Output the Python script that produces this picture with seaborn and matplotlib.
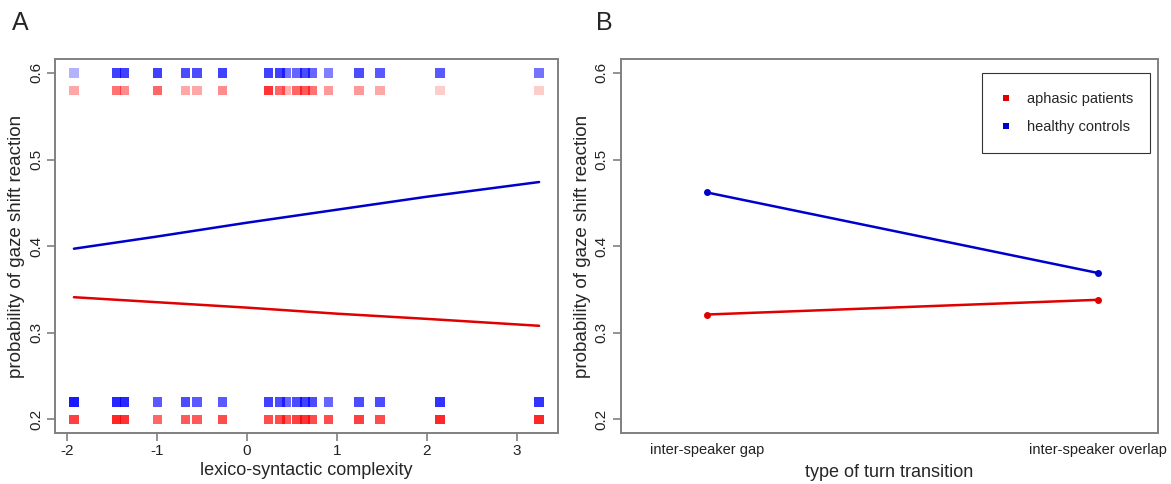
import numpy as np
import pandas as pd
import matplotlib
matplotlib.use("Agg")
import matplotlib.pyplot as plt
import seaborn as sns
from matplotlib.lines import Line2D

# --- panel A: observed complexity values (rug) and their opacity per row ---
rug_x = [-1.92, -1.45, -1.36, -0.99, -0.68, -0.55, -0.27, 0.24, 0.37, 0.44,
         0.56, 0.65, 0.73, 0.91, 1.25, 1.48, 2.15, 3.25]
blue_top_alpha = [0.30, 0.75, 0.75, 0.75, 0.70, 0.70, 0.75, 0.75, 0.75, 0.55,
                  0.60, 0.70, 0.60, 0.50, 0.70, 0.65, 0.65, 0.55]
red_top_alpha = [0.35, 0.55, 0.45, 0.60, 0.35, 0.35, 0.45, 0.80, 0.60, 0.30,
                 0.60, 0.65, 0.55, 0.40, 0.40, 0.35, 0.20, 0.20]
blue_bot_alpha = [0.90, 0.85, 0.85, 0.65, 0.70, 0.65, 0.65, 0.75, 0.70, 0.60,
                  0.70, 0.75, 0.70, 0.60, 0.70, 0.70, 0.80, 0.80]
red_bot_alpha = [0.75, 0.85, 0.80, 0.60, 0.65, 0.65, 0.70, 0.70, 0.70, 0.65,
                 0.75, 0.80, 0.70, 0.70, 0.75, 0.70, 0.85, 0.85]
rug_rows = [(0.60, blue_top_alpha, (0, 0, 1)),
            (0.58, red_top_alpha, (1, 0, 0)),
            (0.22, blue_bot_alpha, (0, 0, 1)),
            (0.20, red_bot_alpha, (1, 0, 0))]

# fitted probability curves
fit_x_blue = [-1.92, -1.0, 0.0, 1.0, 2.0, 3.25]
fit_y_blue = [0.397, 0.411, 0.427, 0.442, 0.457, 0.474]
fit_x_red = [-1.92, 0.0, 1.0, 2.0, 3.25]
fit_y_red = [0.341, 0.329, 0.322, 0.316, 0.308]

# --- panel B ---
transitions = ["inter-speaker gap", "inter-speaker overlap"]
patients_b = [0.321, 0.338]
controls_b = [0.462, 0.369]

RED = "#e00000"
BLUE = "#0000cc"
GRAY = "#808080"

sns.set_style("white")
plt.rcParams["font.family"] = ["Liberation Sans", "DejaVu Sans"]
plt.rcParams["axes.unicode_minus"] = False

fig = plt.figure(figsize=(11.71, 4.84), dpi=100)
axA = fig.add_axes([0.047, 0.105, 0.4295, 0.773])
axB = fig.add_axes([0.530, 0.105, 0.4586, 0.773])


def r_style(ax):
    for sp in ax.spines.values():
        sp.set_color(GRAY)
        sp.set_linewidth(1.4)
    ax.tick_params(axis="both", direction="out", length=5.5, width=1.2,
                   color=GRAY, labelsize=11, labelcolor="#222222",
                   bottom=True, left=True, pad=2.5)
    ax.tick_params(axis="y", labelrotation=90, pad=3)
    for lab in ax.get_yticklabels():
        lab.set_va("center")


# panel A
for yv, alphas, rgb in rug_rows:
    cols = [(*rgb, a) for a in alphas]
    axA.scatter(rug_x, [yv] * len(rug_x), marker="s", s=46, c=cols,
                linewidths=0, zorder=2)

dfA = pd.concat([
    pd.DataFrame({"x": fit_x_blue, "y": fit_y_blue, "group": "healthy controls"}),
    pd.DataFrame({"x": fit_x_red, "y": fit_y_red, "group": "aphasic patients"}),
])
sns.lineplot(data=dfA, x="x", y="y", hue="group",
             palette={"healthy controls": BLUE, "aphasic patients": RED},
             lw=1.8, legend=False, ax=axA, zorder=3)
axA.set_xlim(-2.13, 3.46)
axA.set_ylim(0.184, 0.616)
axA.set_xticks([-2, -1, 0, 1, 2, 3])
axA.set_yticks([0.2, 0.3, 0.4, 0.5, 0.6])
axA.set_yticklabels(["0.2", "0.3", "0.4", "0.5", "0.6"])
axA.set_xlabel("lexico-syntactic complexity", fontsize=13, labelpad=3)
axA.set_ylabel("probability of gaze shift reaction", fontsize=13.5, labelpad=3)
r_style(axA)

# panel B
dfB = pd.DataFrame({
    "pos": [1, 2, 1, 2],
    "prob": patients_b + controls_b,
    "group": ["aphasic patients"] * 2 + ["healthy controls"] * 2,
})
sns.lineplot(data=dfB, x="pos", y="prob", hue="group",
             palette={"healthy controls": BLUE, "aphasic patients": RED},
             marker="o", markersize=5, markeredgewidth=0, lw=1.8,
             legend=False, ax=axB)
axB.set_xlim(0.78, 2.153)
axB.set_ylim(0.184, 0.616)
axB.set_xticks([1, 2])
axB.set_xticklabels(transitions)
axB.set_yticks([0.2, 0.3, 0.4, 0.5, 0.6])
axB.set_yticklabels(["0.2", "0.3", "0.4", "0.5", "0.6"])
axB.set_xlabel("type of turn transition", fontsize=13, labelpad=5)
axB.set_ylabel("probability of gaze shift reaction", fontsize=13.5, labelpad=3)
r_style(axB)
axB.tick_params(axis="x", length=0, labelsize=10.5, pad=7)

handles = [Line2D([], [], ls="none", marker="s", markersize=5, color=RED, mew=0),
           Line2D([], [], ls="none", marker="s", markersize=5, color=BLUE, mew=0)]
leg = axB.legend(handles, ["aphasic patients", "healthy controls"],
                 loc="upper left", bbox_to_anchor=(0.672, 0.963, 0.313, 0.0),
                 mode="expand", borderaxespad=0, fancybox=False, frameon=True,
                 fontsize=10.5, handlelength=0.8, handletextpad=1.0,
                 labelspacing=1.0, borderpad=1.3)
leg.get_frame().set_edgecolor("black")
leg.get_frame().set_linewidth(0.8)

fig.text(0.010, 0.978, "A", fontsize=18, va="top")
fig.text(0.509, 0.978, "B", fontsize=18, va="top")

fig.savefig("out.png", dpi=100, facecolor="white")
